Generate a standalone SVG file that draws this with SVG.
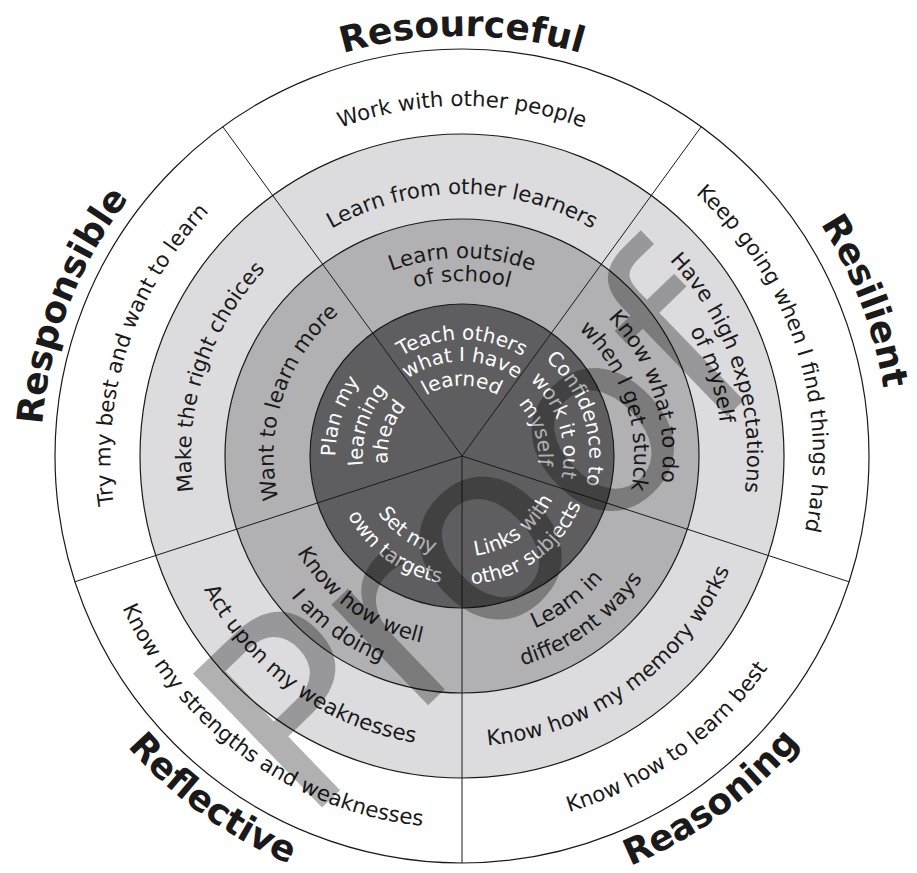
<svg xmlns="http://www.w3.org/2000/svg" xmlns:xlink="http://www.w3.org/1999/xlink" width="917" height="873" viewBox="0 0 917 873">
<style>
.ring{stroke:#1a1a1a;stroke-width:1.2}
.spoke{stroke:#1a1a1a;stroke-width:1;fill:none}
.t{font-family:"DejaVu Sans",Verdana,sans-serif;font-size:21.3px;fill:#1a1a1a}
.w{font-family:"DejaVu Sans",Verdana,sans-serif;font-size:20px;fill:#ffffff}
.lab{font-family:"DejaVu Sans",Verdana,sans-serif;font-size:36px;font-weight:bold;fill:#1a1a1a}
.wm{font-family:"DejaVu Sans",Verdana,sans-serif;font-size:255px;fill:#000;opacity:0.3}
</style>
<defs>
<path id="po_t" d="M 112 456 A 350 350 0 0 1 812 456"/>
<path id="po_r" d="M 353.53 122.18 A 351 351 0 0 1 570.47 789.82"/>
<path id="po_lr" d="M 161.04 674.66 A 372 372 0 0 0 762.96 237.34"/>
<path id="po_ll" d="M 161.04 237.34 A 372 372 0 0 0 762.96 674.66"/>
<path id="po_l" d="M 352.92 791.72 A 353 353 0 0 1 571.08 120.28"/>
<path id="p3_t" d="M 200 456 A 262 262 0 0 1 724 456"/>
<path id="p3_r1" d="M 373.62 184 A 286 286 0 0 1 550.38 728"/>
<path id="p3_r2" d="M 381.65 208.72 A 260 260 0 0 1 542.35 703.28"/>
<path id="p3_lr" d="M 225.77 627.63 A 292 292 0 0 0 698.23 284.37"/>
<path id="p3_ll" d="M 226.58 284.95 A 291 291 0 0 0 697.42 627.05"/>
<path id="p3_l" d="M 378.26 713.74 A 271 271 0 0 1 545.74 198.26"/>
<path id="p2_t1" d="M 264 456 A 198 198 0 0 1 660 456"/>
<path id="p2_t2" d="M 287 456 A 175 175 0 0 1 637 456"/>
<path id="p2_r1" d="M 399.58 263.89 A 202 202 0 0 1 524.42 648.11"/>
<path id="p2_r2" d="M 408.54 291.47 A 173 173 0 0 1 515.46 620.53"/>
<path id="p2_lr1" d="M 310.71 565.92 A 187 187 0 0 0 613.29 346.08"/>
<path id="p2_lr2" d="M 285.63 584.14 A 218 218 0 0 0 638.37 327.86"/>
<path id="p2_ll1" d="M 307.48 343.73 A 191 191 0 0 0 616.52 568.27"/>
<path id="p2_ll2" d="M 282.4 325.51 A 222 222 0 0 0 641.6 586.49"/>
<path id="p2_l" d="M 403.6 635.75 A 189 189 0 0 1 520.4 276.25"/>
<path id="pi_t1" d="M 345.5 456 A 116.5 116.5 0 0 1 578.5 456"/>
<path id="pi_t2" d="M 367.5 456 A 94.5 94.5 0 0 1 556.5 456"/>
<path id="pi_t3" d="M 391.5 456 A 70.5 70.5 0 0 1 532.5 456"/>
<path id="pi_r1" d="M 422.6 334.74 A 127.5 127.5 0 0 1 501.4 577.26"/>
<path id="pi_r2" d="M 430.33 358.52 A 102.5 102.5 0 0 1 493.67 553.48"/>
<path id="pi_r3" d="M 438.36 383.24 A 76.5 76.5 0 0 1 485.64 528.76"/>
<path id="pi_lr1" d="M 380.69 515.07 A 100.5 100.5 0 0 0 543.31 396.93"/>
<path id="pi_lr2" d="M 358.04 531.53 A 128.5 128.5 0 0 0 565.96 380.47"/>
<path id="pi_ll1" d="M 379.88 396.34 A 101.5 101.5 0 0 0 544.12 515.66"/>
<path id="pi_ll2" d="M 358.04 380.47 A 128.5 128.5 0 0 0 565.96 531.53"/>
<path id="pi_l1" d="M 422.91 576.31 A 126.5 126.5 0 0 1 501.09 335.69"/>
<path id="pi_l2" d="M 431.25 550.63 A 99.5 99.5 0 0 1 492.75 361.37"/>
<path id="pi_l3" d="M 438.67 527.8 A 75.5 75.5 0 0 1 485.33 384.2"/>
<path id="pl_t" d="M 42 456 A 420 420 0 0 1 882 456"/>
<path id="pl_r" d="M 308.98 57.36 A 427 427 0 0 1 615.02 854.64"/>
<path id="pl_lr" d="M 103.6 716.39 A 443 443 0 0 0 820.4 195.61"/>
<path id="pl_ll" d="M 103.6 195.61 A 443 443 0 0 0 820.4 716.39"/>
<path id="pl_l" d="M 310.77 849.97 A 422 422 0 0 1 613.23 62.03"/>
</defs>
<rect width="917" height="873" fill="#ffffff"/>
<g id="rings">
<circle class="ring" cx="462" cy="456" r="407" fill="#ffffff"/>
<circle class="ring" cx="462" cy="456" r="322" fill="#dcdcde"/>
<circle class="ring" cx="462" cy="456" r="237" fill="#b1b1b3"/>
<circle class="ring" cx="462" cy="456" r="152" fill="#5e5e60"/>
</g>
<g id="connectors">
<path class="spoke" d="M 462 456 L 222.77 126.73 M 462 456 L 701.23 126.73 M 462 456 L 849.08 581.77 M 462 456 L 462 863 M 462 456 L 74.92 581.77"/>
</g>
<g id="label-resourceful"><text class="lab"><textPath href="#pl_t" xlink:href="#pl_t" startOffset="50%" text-anchor="middle">Resourceful</textPath></text></g>
<g id="label-resilient"><text class="lab"><textPath href="#pl_r" xlink:href="#pl_r" startOffset="50%" text-anchor="middle">Resilient</textPath></text></g>
<g id="label-reasoning"><text class="lab"><textPath href="#pl_lr" xlink:href="#pl_lr" startOffset="50%" text-anchor="middle">Reasoning</textPath></text></g>
<g id="label-reflective"><text class="lab"><textPath href="#pl_ll" xlink:href="#pl_ll" startOffset="50%" text-anchor="middle">Reflective</textPath></text></g>
<g id="label-responsible"><text class="lab"><textPath href="#pl_l" xlink:href="#pl_l" startOffset="50%" text-anchor="middle">Responsible</textPath></text></g>
<g id="outer-top"><text class="t"><textPath href="#po_t" xlink:href="#po_t" startOffset="50%" text-anchor="middle">Work with other people</textPath></text></g>
<g id="outer-right"><text class="t"><textPath href="#po_r" xlink:href="#po_r" startOffset="50%" text-anchor="middle">Keep going when I find things hard</textPath></text></g>
<g id="outer-lowright"><text class="t"><textPath href="#po_lr" xlink:href="#po_lr" startOffset="50%" text-anchor="middle">Know how to learn best</textPath></text></g>
<g id="outer-lowleft"><text class="t"><textPath href="#po_ll" xlink:href="#po_ll" startOffset="50%" text-anchor="middle">Know my strengths and weaknesses</textPath></text></g>
<g id="outer-left"><text class="t"><textPath href="#po_l" xlink:href="#po_l" startOffset="50%" text-anchor="middle">Try my best and want to learn</textPath></text></g>
<g id="ring3-top"><text class="t"><textPath href="#p3_t" xlink:href="#p3_t" startOffset="50%" text-anchor="middle">Learn from other learners</textPath></text></g>
<g id="ring3-right"><text class="t"><textPath href="#p3_r1" xlink:href="#p3_r1" startOffset="50%" text-anchor="middle">Have high expectations</textPath></text><text class="t"><textPath href="#p3_r2" xlink:href="#p3_r2" startOffset="50%" text-anchor="middle">of myself</textPath></text></g>
<g id="ring3-lowright"><text class="t"><textPath href="#p3_lr" xlink:href="#p3_lr" startOffset="50%" text-anchor="middle">Know how my memory works</textPath></text></g>
<g id="ring3-lowleft"><text class="t"><textPath href="#p3_ll" xlink:href="#p3_ll" startOffset="50%" text-anchor="middle">Act upon my weaknesses</textPath></text></g>
<g id="ring3-left"><text class="t"><textPath href="#p3_l" xlink:href="#p3_l" startOffset="50%" text-anchor="middle">Make the right choices</textPath></text></g>
<g id="ring2-top"><text class="t"><textPath href="#p2_t1" xlink:href="#p2_t1" startOffset="50%" text-anchor="middle">Learn outside</textPath></text><text class="t"><textPath href="#p2_t2" xlink:href="#p2_t2" startOffset="50%" text-anchor="middle">of school</textPath></text></g>
<g id="ring2-right"><text class="t"><textPath href="#p2_r1" xlink:href="#p2_r1" startOffset="50%" text-anchor="middle">Know what to do</textPath></text><text class="t"><textPath href="#p2_r2" xlink:href="#p2_r2" startOffset="50%" text-anchor="middle">when I get stuck</textPath></text></g>
<g id="ring2-lowright"><text class="t"><textPath href="#p2_lr1" xlink:href="#p2_lr1" startOffset="50%" text-anchor="middle">Learn in</textPath></text><text class="t"><textPath href="#p2_lr2" xlink:href="#p2_lr2" startOffset="50%" text-anchor="middle">different ways</textPath></text></g>
<g id="ring2-lowleft"><text class="t"><textPath href="#p2_ll1" xlink:href="#p2_ll1" startOffset="50%" text-anchor="middle">Know how well</textPath></text><text class="t"><textPath href="#p2_ll2" xlink:href="#p2_ll2" startOffset="50%" text-anchor="middle">I am doing</textPath></text></g>
<g id="ring2-left"><text class="t"><textPath href="#p2_l" xlink:href="#p2_l" startOffset="50%" text-anchor="middle">Want to learn more</textPath></text></g>
<g id="inner-top"><text class="w"><textPath href="#pi_t1" xlink:href="#pi_t1" startOffset="50%" text-anchor="middle">Teach others</textPath></text><text class="w"><textPath href="#pi_t2" xlink:href="#pi_t2" startOffset="50%" text-anchor="middle">what I have</textPath></text><text class="w"><textPath href="#pi_t3" xlink:href="#pi_t3" startOffset="50%" text-anchor="middle">learned</textPath></text></g>
<g id="inner-right"><text class="w"><textPath href="#pi_r1" xlink:href="#pi_r1" startOffset="50%" text-anchor="middle">Confidence to</textPath></text><text class="w"><textPath href="#pi_r2" xlink:href="#pi_r2" startOffset="50%" text-anchor="middle">work it out</textPath></text><text class="w"><textPath href="#pi_r3" xlink:href="#pi_r3" startOffset="50%" text-anchor="middle">myself</textPath></text></g>
<g id="inner-lowright"><text class="w"><textPath href="#pi_lr1" xlink:href="#pi_lr1" startOffset="50%" text-anchor="middle">Links with</textPath></text><text class="w"><textPath href="#pi_lr2" xlink:href="#pi_lr2" startOffset="50%" text-anchor="middle">other subjects</textPath></text></g>
<g id="inner-lowleft"><text class="w"><textPath href="#pi_ll1" xlink:href="#pi_ll1" startOffset="50%" text-anchor="middle">Set my</textPath></text><text class="w"><textPath href="#pi_ll2" xlink:href="#pi_ll2" startOffset="50%" text-anchor="middle">own targets</textPath></text></g>
<g id="inner-left"><text class="w"><textPath href="#pi_l1" xlink:href="#pi_l1" startOffset="50%" text-anchor="middle">Plan my</textPath></text><text class="w"><textPath href="#pi_l2" xlink:href="#pi_l2" startOffset="50%" text-anchor="middle">learning</textPath></text><text class="w"><textPath href="#pi_l3" xlink:href="#pi_l3" startOffset="50%" text-anchor="middle">ahead</textPath></text></g>
<g id="watermark"><text class="wm" x="538" y="599" text-anchor="middle" transform="rotate(-44 538 599)">Proof</text></g>
</svg>
